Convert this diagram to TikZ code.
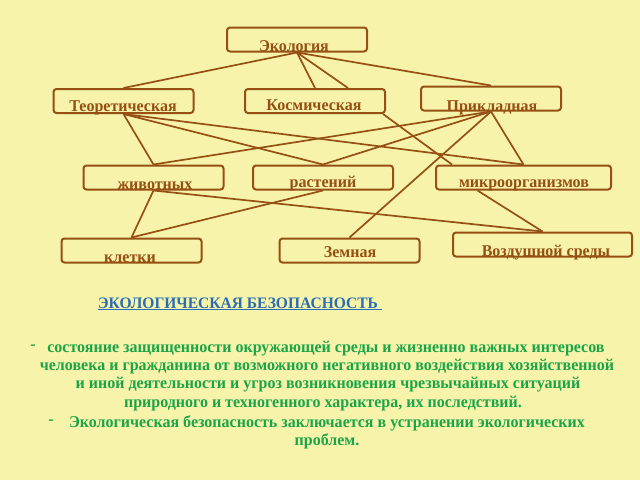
\documentclass[tikz,border=0pt]{standalone}
\usepackage{fontspec}
\setmainfont{Liberation Serif}
\newfontfamily\condserif[FakeStretch=0.97]{Liberation Serif}
\usepackage{xcolor}
\usetikzlibrary{calc}

\definecolor{fond}{RGB}{247,243,170}
\definecolor{brun}{RGB}{150,80,20}
\definecolor{bleu}{RGB}{40,110,180}
\definecolor{vert}{RGB}{28,165,72}

\tikzset{boite/.style={draw=brun, line width=2pt, rounded corners=3pt,
    minimum width=140pt, minimum height=24pt, inner sep=0pt},
  nom/.style={text=brun, font=\condserif\bfseries\fontsize{16.5}{16.5}\selectfont,
    anchor=base, inner sep=0pt},
  lien/.style={draw=brun, line width=1.7pt},
  texte/.style={text=vert, font=\condserif\bfseries\fontsize{16.5}{16.5}\selectfont,
    anchor=base, inner sep=0pt}}

\begin{document}
\begin{tikzpicture}[x=1pt,y=-1pt]
\fill[fond] (0,0) rectangle (640,480);
\useasboundingbox (0,0) rectangle (640,480);

%%% boites
\node[boite] (eco) at (297,39.5) {};
\node[boite] (teor) at (123.5,101) {};
\node[boite] (kosm) at (315,101) {};
\node[boite] (prik) at (491,98.5) {};
\node[boite] (zhiv) at (153.5,177.5) {};
\node[boite] (rast) at (323,177.5) {};
\node[boite, minimum width=175pt] (mikro) at (523.5,177.5) {};
\node[boite] (klet) at (131.5,250.5) {};
\node[boite] (zemn) at (349.5,250.5) {};
\node[boite, minimum width=179pt] (vozd) at (542.5,244.5) {};

%%% noms
\node[nom] (eco-t) at (294,51) {Экология};
\node[nom] (teor-t) at (123,111) {Теоретическая};
\node[nom] (kosm-t) at (314,110) {Космическая};
\node[nom] (prik-t) at (492,111) {Прикладная};
\node[nom] (zhiv-t) at (155,189) {животных};
\node[nom] (rast-t) at (323,187) {растений};
\node[nom] (mikro-t) at (524,187) {микроорганизмов};
\node[nom] (klet-t) at (130,262) {клетки};
\node[nom] (zemn-t) at (350,257) {Земная};
\node[nom] (vozd-t) at (546,256) {Воздушной среды};

%%% liens
\draw[lien] (eco.south) -- (teor.north);
\draw[lien] (eco.south) -- (kosm.north);
\draw[lien] (eco.south) -- ([xshift=33pt]kosm.north);
\draw[lien] (eco.south) -- (prik.north);

\draw[lien] (teor.south) -- (zhiv.north);
\draw[lien] (teor.south) -- (rast.north);
\draw[lien] (teor.south) -- (mikro.north);

\draw[lien] (prik.south) -- (zhiv.north);
\draw[lien] (prik.south) -- (rast.north);
\draw[lien] (prik.south) -- (mikro.north);
\draw[lien] (prik.south) -- (zemn.north);
\draw[lien] ([xshift=-3pt]kosm.south east) -- ([xshift=17pt]mikro.north west);

\draw[lien] (zhiv.south) -- (klet.north);
\draw[lien] (zhiv.south) -- (vozd.north);
\draw[lien] (rast.south) -- (klet.north);
\draw[lien] ([xshift=-46pt]mikro.south) -- (vozd.north);

%%% definition
\node[anchor=base west, inner sep=0pt, text=bleu,
  font=\condserif\bfseries\fontsize{16}{16}\selectfont] (titre) at (98,308)
  {\underline{ЭКОЛОГИЧЕСКАЯ БЕЗОПАСНОСТЬ\ }};

\node[texte] (tiret1) at (33,349) {-};
\node[texte] (l1) at (326,352) {состояние защищенности окружающей среды и жизненно важных интересов};
\node[texte] (l2) at (327,370) {человека и гражданина от возможного негативного воздействия хозяйственной};
\node[texte] (l3) at (328,388) {и иной деятельности и угроз возникновения чрезвычайных ситуаций};
\node[texte] (l4) at (323,407) {природного и техногенного характера, их последствий.};
\node[texte] (tiret2) at (51,424) {-};
\node[texte] (l5) at (327,427) {Экологическая безопасность заключается в устранении экологических};
\node[texte] (l6) at (327,445) {проблем.};
\end{tikzpicture}
\end{document}
